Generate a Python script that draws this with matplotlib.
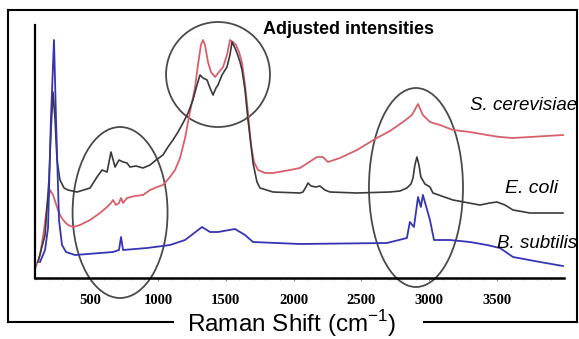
import matplotlib
matplotlib.use("Agg")
import matplotlib.pyplot as plt
from matplotlib.patches import Ellipse
from matplotlib.lines import Line2D
from matplotlib.ticker import MultipleLocator

plt.rcParams['font.family'] = ['Liberation Sans', 'DejaVu Sans']
plt.rcParams['mathtext.fontset'] = 'custom'
plt.rcParams['mathtext.rm'] = 'Liberation Sans'

# spectra: wavenumber (cm-1) and adjusted intensity (a.u.)
wn_scer = [100, 131, 161, 183, 205, 227, 256, 278, 301, 337, 374, 426, 500, 573, 625, 654,
           669, 691, 713, 728, 743, 772, 831, 890, 942, 994, 1037, 1089, 1126, 1163, 1200,
           1236, 1273, 1295, 1317, 1332, 1347, 1369, 1391, 1421, 1450, 1480, 1509, 1531,
           1553, 1575, 1598, 1620, 1642, 1664, 1686, 1708, 1738, 1789, 1848, 1973, 2047,
           2172, 2216, 2253, 2342, 2467, 2614, 2710, 2806, 2872, 2917, 2953, 3005, 3079,
           3175, 3300, 3425, 3521, 3617, 3742, 3985]
int_scer = [11, 23, 48, 73, 88, 83, 71, 63, 58, 53, 51, 53, 58, 65, 71, 75,
            78, 73, 75, 80, 75, 80, 82, 83, 88, 91, 93, 101, 108, 120, 140,
            166, 190, 213, 233, 238, 233, 216, 206, 201, 206, 211, 223, 238,
            236, 233, 226, 215, 193, 165, 133, 116, 108, 105, 105, 108, 110,
            121, 121, 116, 120, 128, 140, 147, 156, 163, 174, 163, 156, 153,
            148, 146, 143, 141, 140, 141, 143]

wn_ecoli = [116, 168, 197, 212, 227, 242, 256, 278, 308, 337, 404, 500, 551, 588, 625, 654,
            684, 713, 743, 772, 794, 839, 890, 942, 986, 1037, 1074, 1111, 1148, 1185, 1222,
            1258, 1288, 1310, 1332, 1362, 1384, 1406, 1428, 1443, 1472, 1509, 1531, 1546,
            1568, 1583, 1605, 1620, 1642, 1664, 1686, 1701, 1730, 1753, 1848, 2047, 2069,
            2091, 2106, 2128, 2165, 2194, 2231, 2268, 2467, 2710, 2784, 2835, 2865, 2880,
            2894, 2909, 2924, 2938, 2968, 3005, 3027, 3175, 3373, 3447, 3499, 3558, 3617,
            3742, 3985]
int_ecoli = [16, 43, 98, 148, 186, 158, 118, 98, 90, 88, 86, 90, 101, 108, 106, 126,
             111, 118, 116, 115, 111, 112, 110, 113, 118, 123, 131, 138, 146, 155, 165,
             178, 193, 203, 200, 198, 190, 183, 190, 193, 203, 211, 223, 236,
             230, 225, 216, 208, 188, 158, 133, 115, 96, 90, 86, 85, 86,
             91, 95, 92, 91, 92, 88, 86, 85, 86, 87, 90, 94, 100,
             113, 121, 113, 101, 94, 91, 85, 78, 73, 75, 76, 73, 68,
             65, 65]

wn_bsub = [131, 168, 190, 211, 234, 249, 271, 293, 323, 389, 669, 713, 728, 743, 920, 1089,
           1200, 1325, 1384, 1443, 1568, 1642, 1701, 2047, 2688, 2835, 2857, 2887, 2917,
           2938, 2953, 3005, 3035, 3152, 3300, 3425, 3521, 3617, 3816, 3985]
int_bsub = [16, 28, 50, 158, 238, 158, 58, 33, 26, 23, 26, 28, 41, 28, 30, 33,
            38, 51, 46, 46, 49, 43, 36, 34, 35, 40, 56, 51, 81,
            71, 83, 58, 38, 38, 36, 33, 30, 21, 16, 12]

xticks = [500, 1000, 1500, 2000, 2500, 3000, 3500]

W, H = 579, 339
fig = plt.figure(figsize=(W / 100, H / 100), dpi=100)
ax = fig.add_axes([35 / W, 1 - 278 / H, (564 - 35) / W, (278 - 25) / H])

ax.plot(wn_scer, int_scer, color='#d8606c', lw=1.3)
ax.plot(wn_ecoli, int_ecoli, color='#3a3a3a', lw=1.2)
ax.plot(wn_bsub, int_bsub, color='#3434b4', lw=1.3)

ax.set_xlim(94, 3993)
ax.set_ylim(0, 253)
ax.set_xticks(xticks)
ax.set_xticklabels([str(t) for t in xticks], family='Liberation Serif',
                   fontsize=10.5, fontweight='bold')
ax.xaxis.set_minor_locator(MultipleLocator(100))
ax.tick_params(axis='x', which='major', length=2.5, width=0.8, color='#888888', pad=9)
ax.tick_params(axis='x', which='minor', length=1.5, width=0.6, color='#aaaaaa')
ax.set_yticks([])
ax.spines['top'].set_visible(False)
ax.spines['right'].set_visible(False)
ax.spines['left'].set_linewidth(1.6)
ax.spines['bottom'].set_linewidth(1.8)

# ellipses highlighting regions
ell_kw = dict(fill=False, edgecolor='#4a4a4a', lw=1.3, clip_on=False)
ax.add_patch(Ellipse((1443, 203.5), 766, 105, **ell_kw))
ax.add_patch(Ellipse((721, 65.5), 700, 171, **ell_kw))
ax.add_patch(Ellipse((2902, 90.5), 693, 199, **ell_kw))

fig.text(263 / W, 1 - 30 / H, 'Adjusted intensities', fontsize=13,
         fontweight='bold', ha='left', va='center')
fig.text(577 / W, 1 - 106 / H, 'S. cerevisiae', fontsize=13.5, style='italic',
         ha='right', va='center')
fig.text(558 / W, 1 - 188 / H, 'E. coli', fontsize=14, style='italic',
         ha='right', va='center')
fig.text(577 / W, 1 - 243 / H, 'B. subtilis', fontsize=13.5, style='italic',
         ha='right', va='center')
fig.text(292 / W, 1 - 324 / H, r'Raman Shift (cm$^{\mathregular{-1}}$)', fontsize=17.5,
         ha='center', va='center')

# outer frame with a gap for the axis title
frame = [([8, 8], [10, 322]), ([8, 577], [10, 10]), ([577, 577], [10, 322]),
         ([8, 173], [322, 322]), ([424, 577], [322, 322])]
for xs, ys in frame:
    fig.add_artist(Line2D([x / W for x in xs], [1 - y / H for y in ys],
                          color='black', lw=1.5, transform=fig.transFigure))

fig.savefig('out.png', dpi=100)
